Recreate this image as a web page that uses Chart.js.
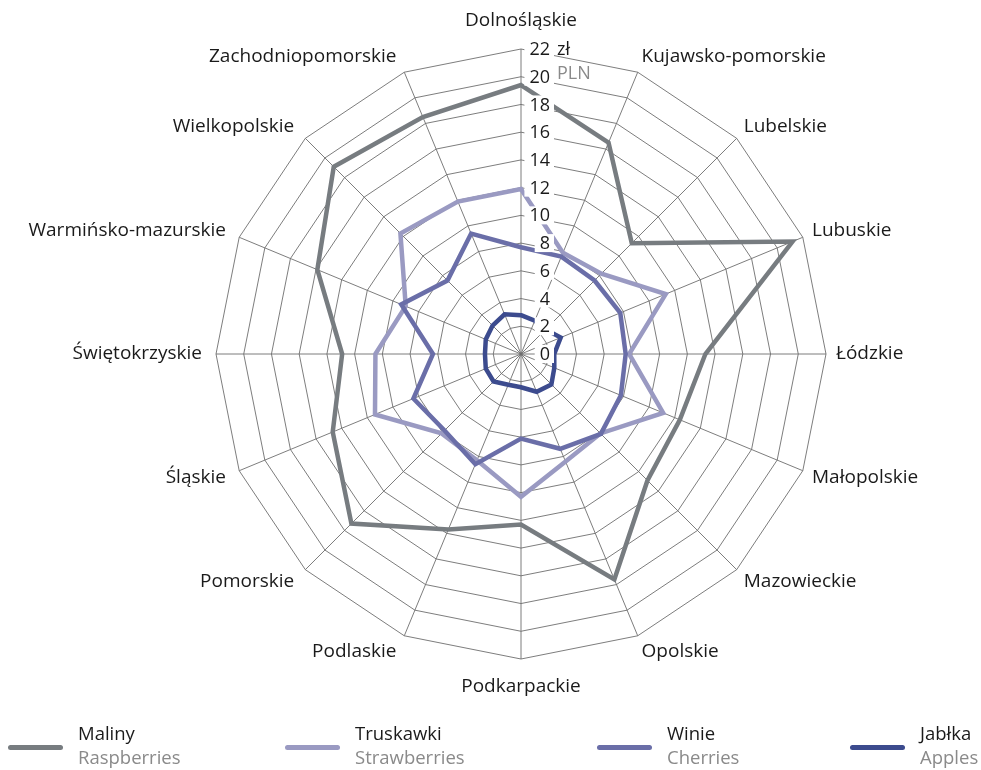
<!DOCTYPE html>
<html>
<head>
<meta charset="utf-8">
<script src="https://cdn.jsdelivr.net/npm/chart.js@4.4.1/dist/chart.umd.min.js"></script>
<style>
  html, body { margin: 0; padding: 0; background: #fff; }
  #wrap { position: relative; width: 981px; height: 770px; }
  #legend { position: absolute; left: 0; top: 720px; width: 981px; height: 50px; font-family: 'Open Sans', sans-serif; font-size: 18.5px; }
  .item { position: absolute; top: 0; }
  .swatch { position: absolute; top: 25px; width: 55px; height: 5px; border-radius: 3px; }
  .txt { position: absolute; white-space: nowrap; line-height: 24px; }
  .pl { color: #1a1a1a; }
  .en { color: #8a8a8a; }
</style>
</head>
<body>
<div id="wrap">
  <canvas id="myChart" width="981" height="770"></canvas>
  <div id="legend"></div>
</div>
<script>
// województwa
const regions = [
    'Dolnośląskie', 'Kujawsko-pomorskie', 'Lubelskie', 'Lubuskie',
    'Łódzkie', 'Małopolskie', 'Mazowieckie', 'Opolskie',
    'Podkarpackie', 'Podlaskie', 'Pomorskie', 'Śląskie',
    'Świętokrzyskie', 'Warmińsko-mazurskie', 'Wielkopolskie', 'Zachodniopomorskie'
];

// ceny (zł)
const maliny    = [19.4, 16.5, 11.3, 21.2, 13.3, 12.4, 12.9, 17.6, 12.3, 13.7, 17.3, 14.7, 12.9, 15.9, 19.1, 18.5];
const truskawki = [11.9, 7.9, 8.2, 11.3, 7.8, 11.1, 8.1, 8.4, 10.3, 8.3, 8.1, 11.4, 10.5, 9.0, 12.3, 11.9];
const winie     = [7.7, 7.6, 7.5, 7.75, 7.55, 7.8, 8.15, 7.4, 6.1, 8.6, 7.8, 8.4, 6.35, 9.35, 7.5, 9.4];
const jablka    = [2.8, 2.6, 2.5, 3.1, 2.4, 2.6, 3.1, 2.95, 2.4, 2.4, 2.8, 2.75, 2.6, 2.75, 2.9, 3.1];

const namesPl = ['Maliny', 'Truskawki', 'Winie', 'Jabłka'];
const namesEn = ['Raspberries', 'Strawberries', 'Cherries', 'Apples'];
const colors  = ['#777c80', '#9a9ac2', '#6a6ea8', '#3c4b8e'];

const tickValues = [0, 2, 4, 6, 8, 10, 12, 14, 16, 18, 20, 22];
const unitLabel = 'zł';
const currencyLabel = 'PLN';

const FONT = "'Open Sans', sans-serif";

// etykiety osi i wartości rysowane ręcznie
const labelsPlugin = {
    id: 'labelsPlugin',
    afterDatasetsDraw( chart ) {
        const scale = chart.scales.r;
        const c = chart.ctx;
        c.save();

        // wartości na osi
        c.font = '18px ' + FONT;
        c.textBaseline = 'middle';
        const xr = scale.xCenter + 29;
        tickValues.forEach( ( v, i ) => {
            const y = scale.yCenter - scale.getDistanceFromCenterForValue( v );
            const t = String( v );
            const w = c.measureText( t ).width;
            c.fillStyle = '#fff';
            c.fillRect( xr - w - 5, y - 9, w + 9, 18 );
            c.fillStyle = '#1a1a1a';
            c.textAlign = 'right';
            c.fillText( t, xr, y + 1 );
            if ( i === tickValues.length - 1 ) {
                c.textAlign = 'left';
                c.fillText( unitLabel, xr + 7, y + 1 );
            }
        });
        // PLN
        const y20 = scale.yCenter - scale.getDistanceFromCenterForValue( 20 );
        c.textAlign = 'left';
        c.fillStyle = '#8a8a8a';
        c.fillText( currencyLabel, xr + 7, y20 - 3 );

        // nazwy województw
        c.font = '19px ' + FONT;
        c.fillStyle = '#1a1a1a';
        const n = regions.length;
        regions.forEach( ( name, i ) => {
            const p = scale.getPointPosition( i, scale.drawingArea + 10 );
            const a = i * 2 * Math.PI / n;
            const k = ( i % ( n / 2 ) === 0 ) ? 18 : 7;
            const y = p.y - Math.cos( a ) * k;
            let x = p.x;
            if ( i === 0 || i === n / 2 ) c.textAlign = 'center';
            else if ( i < n / 2 ) c.textAlign = 'left';
            else { c.textAlign = 'right'; x -= 4; }
            c.fillText( name, x, y );
        });
        c.restore();
    }
};

const ctx = document.getElementById( 'myChart' ).getContext( '2d' );

new Chart( ctx, {
    type: 'radar',
    data: {
        labels: regions,
        datasets: [maliny, truskawki, winie, jablka].map( ( d, i ) => ({
            label: namesPl[i],
            data: d,
            borderColor: colors[i],
            borderWidth: 4.5,
            borderJoinStyle: 'miter',
            pointRadius: 0,
            fill: false,
            tension: 0,
            order: 4 - i
        }))
    },
    options: {
        responsive: false,
        animation: false,
        layout: {
            padding: { left: 216, right: 154, top: 49, bottom: 110 }
        },
        plugins: {
            legend: { display: false },
            tooltip: { enabled: false }
        },
        scales: {
            r: {
                min: 0,
                max: 22,
                ticks: {
                    stepSize: 2,
                    display: false
                },
                pointLabels: { display: false },
                grid: {
                    color: '#6e6e6e',
                    lineWidth: 0.9
                },
                angleLines: {
                    color: '#6e6e6e',
                    lineWidth: 0.9
                }
            }
        }
    },
    plugins: [labelsPlugin]
});

// legenda
const legendX = [8, 285, 597, 850];
const legend = document.getElementById( 'legend' );
namesPl.forEach( ( name, i ) => {
    const item = document.createElement( 'div' );
    item.className = 'item';
    item.style.left = legendX[i] + 'px';
    item.innerHTML =
        '<div class="swatch" style="left:0;background:' + colors[i] + '"></div>' +
        '<div class="txt" style="left:70px;top:1px"><span class="pl">' + name + '</span><br><span class="en">' + namesEn[i] + '</span></div>';
    legend.appendChild( item );
});
</script>
</body>
</html>
